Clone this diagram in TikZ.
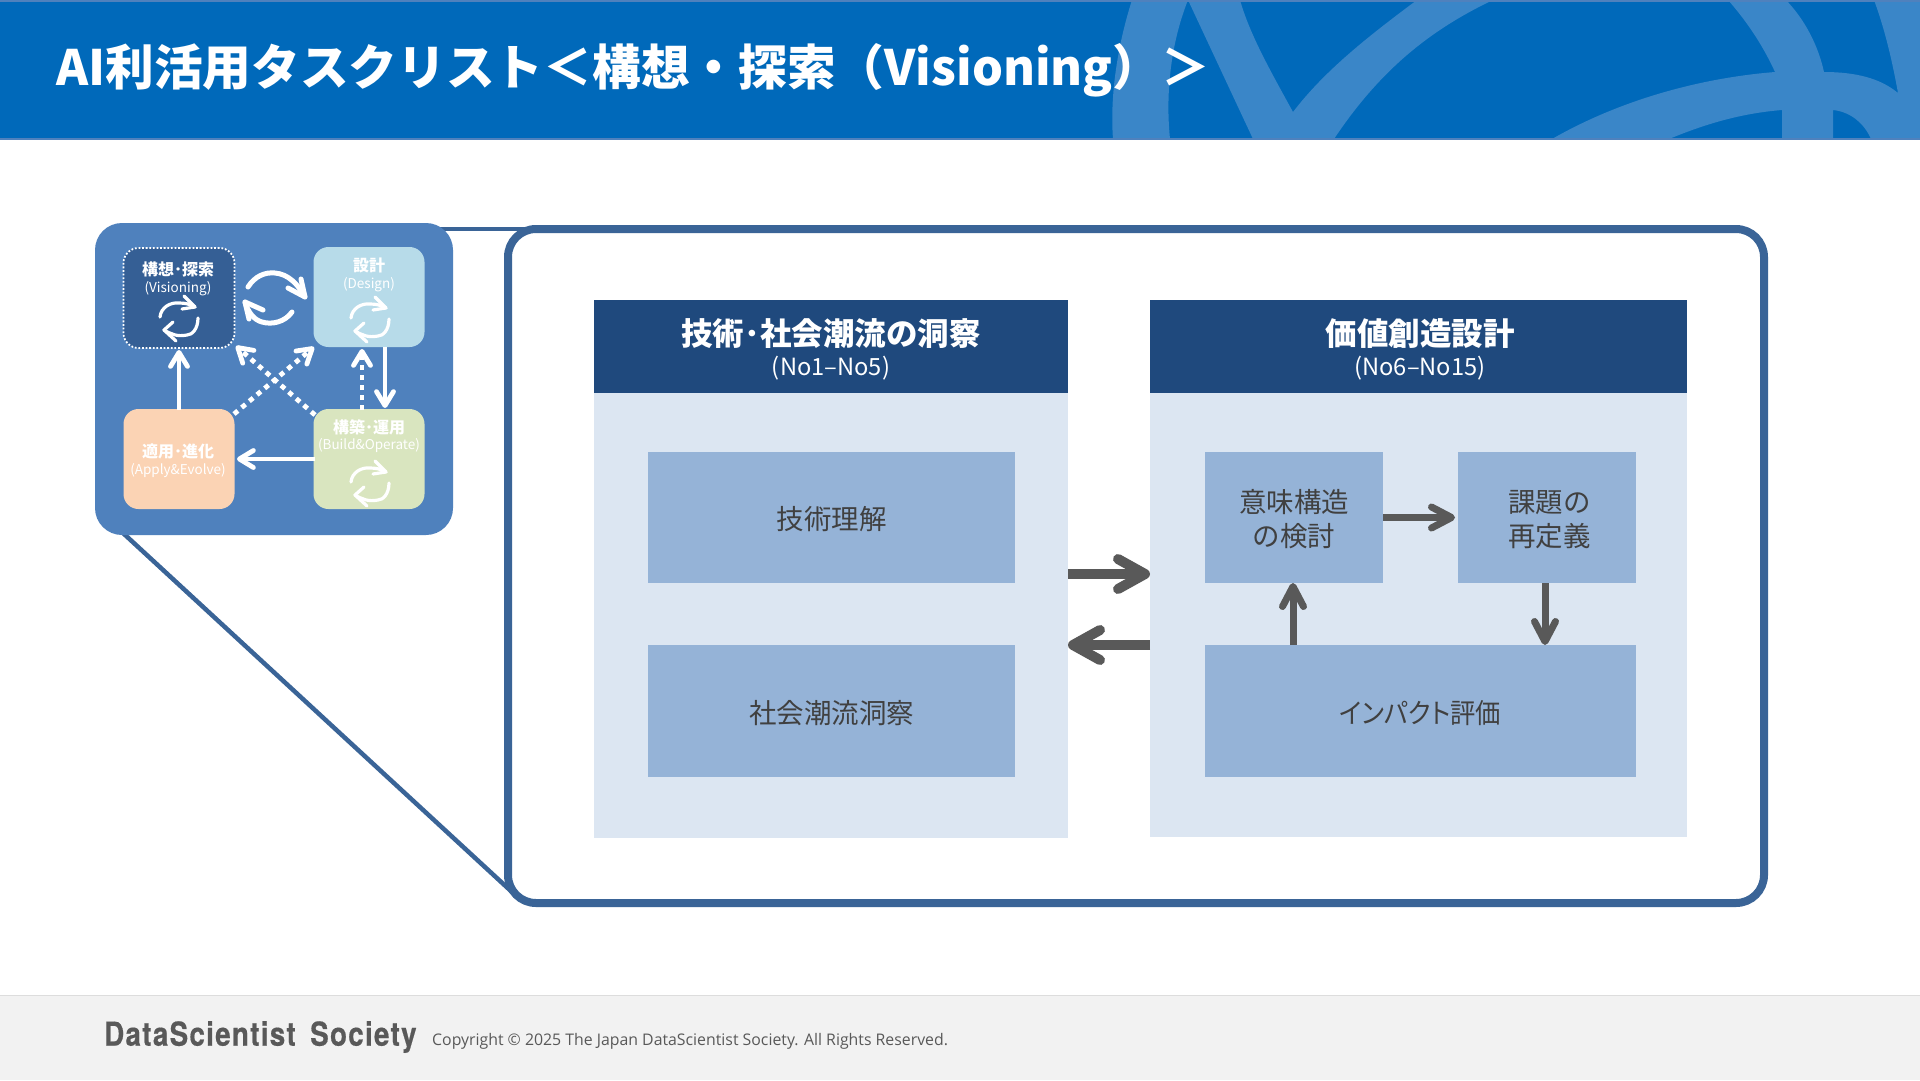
\documentclass[tikz,border=0pt]{standalone}
\usepackage{fontspec}
\usetikzlibrary{arrows.meta}
\setmainfont{Noto Sans CJK JP}
\newfontfamily\propfont[RawFeature={+palt},FakeStretch=0.92]{Noto Sans CJK JP}
\newfontfamily\logofont[FakeStretch=0.84,LetterSpace=4,WordSpace=1.6,FakeBold=0.5]{TeX Gyre Heros}
\newfontfamily\copyfont[FakeStretch=0.99]{Open Sans}
\definecolor{hdr}{HTML}{0069BA}
\definecolor{hdrline}{HTML}{4F81BD}
\definecolor{band}{HTML}{3A86C8}
\definecolor{foot}{HTML}{F2F2F2}
\definecolor{footline}{HTML}{DDDDDD}
\definecolor{panelc}{HTML}{4F81BD}
\definecolor{framec}{HTML}{3A6497}
\definecolor{navy}{HTML}{1F497D}
\definecolor{bodyc}{HTML}{DCE6F2}
\definecolor{boxc}{HTML}{95B3D7}
\definecolor{greyc}{HTML}{595959}
\definecolor{txtc}{HTML}{404040}
\definecolor{visc}{HTML}{355F95}
\definecolor{desc}{HTML}{B7DBE9}
\definecolor{appc}{HTML}{FBD3B4}
\definecolor{bldc}{HTML}{D9E5BF}
\newcommand{\dn}[1]{\raisebox{-2pt}[\height][\depth]{#1}}
\tikzset{
  rectnode/.style={inner sep=0pt,outer sep=0pt,draw=none,align=center},
  colhead/.style={rectnode,fill=navy,text=white},
  colbody/.style={rectnode,fill=bodyc},
  taskbox/.style={rectnode,fill=boxc,text=txtc,font=\fontsize{27.5}{34}\selectfont},
  fatarrow/.style={draw=greyc,line width=10pt,-{Straight Barb[length=27pt,width=30pt,round]}},
  midarrow/.style={draw=greyc,line width=7pt,-{Straight Barb[length=20pt,width=21pt,round]}},
  stagebox/.style={rectnode,rounded corners=15pt,minimum width=111pt,minimum height=100pt},
  stagetxt/.style={text=white,inner sep=0pt,font=\fontsize{16}{18}\bfseries\selectfont},
  stagesub/.style={text=white,inner sep=0pt,font=\fontsize{13.5}{15}\selectfont},
  whitearrow/.style={draw=white,line width=4.8pt,-{Straight Barb[length=14pt,width=17pt,round]}},
  dotarrow/.style={whitearrow,dash pattern=on 5pt off 5pt},
  iconarc/.style={draw=white,line width=3.2pt,line cap=round,line join=round},
  bigarc/.style={draw=white,line width=5pt,line cap=round,line join=round},
  linkline/.style={draw=framec,line width=4.5pt},
}
\newcommand{\cycicon}[2]{%
  \begin{scope}[shift={(#1,#2)}]
  \draw[iconarc] (-19,-2) .. controls (-18,-12) and (-8,-17) .. (0,-16) .. controls (6,-16) and (11,-15) .. (16,-12);
  \draw[iconarc] (5,-23) -- (16,-12) -- (3,-10);
  \draw[iconarc] (19,-1) .. controls (19,10) and (13,16) .. (8,16) .. controls (-2,18) and (-8,15) .. (-15,11);
  \draw[iconarc] (-6,3) -- (-15,11) -- (-3,22);
  \end{scope}
}
\begin{document}
\begin{tikzpicture}[x=1pt,y=-1pt]
\useasboundingbox (0,0) rectangle (1920,1080);
\fill[white] (0,0) rectangle (1920,1080);
% header
\fill[hdr] (0,0) rectangle (1920,139);
\fill[band] (1132,0) .. controls (1116,50) and (1110,100) .. (1113,139) -- (1170,139) .. controls (1165,90) and (1172,40) .. (1188,0) -- cycle;
\fill[band] (1188,0) -- (1253,139) -- (1334,139) .. controls (1380,70) and (1430,30) .. (1493,0) -- (1417,0) .. controls (1370,35) and (1325,70) .. (1293,112) .. controls (1270,70) and (1250,35) .. (1240,0) -- cycle;
\fill[band] (1728,0) .. controls (1750,25) and (1765,50) .. (1775,72) .. controls (1700,78) and (1620,100) .. (1552,139) -- (1669,139) .. controls (1710,122) and (1745,113) .. (1782,110) -- (1782,139) -- (1833,139) -- (1833,110) .. controls (1852,112) and (1865,125) .. (1871,139) -- (1920,139) -- (1920,0) -- (1874,0) .. controls (1885,30) and (1892,60) .. (1898,93) .. controls (1880,78) and (1855,72) .. (1824,72) .. controls (1818,45) and (1805,20) .. (1786,0) -- cycle;
\fill[hdrline] (0,0) rectangle (1920,2);
\fill[hdrline] (0,138) rectangle (1920,140);
\node[anchor=west,inner sep=0pt,text=white,font=\fontsize{48.7}{56}\bfseries\selectfont] (title) at (56,70) {AI利活用タスクリスト＜構想・探索（Visioning）＞};
% footer
\fill[foot] (0,995) rectangle (1920,1080);
\draw[footline,line width=1pt] (0,995) -- (1920,995);
\node[anchor=west,inner sep=0pt,text=greyc,font=\fontsize{33}{36}\logofont\bfseries\selectfont] (logo) at (104,1037) {DataScientist Society};
\node[anchor=west,inner sep=0pt,text=greyc,font=\fontsize{16}{20}\copyfont\selectfont] (copy) at (432,1041) {Copyright © 2025 The Japan DataScientist Society. All Rights Reserved.};
% connectors
\coordinate (ptop) at (430,229);
\coordinate (pbot) at (123,533);
\coordinate (ftop) at (530,229);
\coordinate (fbot) at (512,892);
\draw[linkline] (ptop) -- (ftop);
\draw[linkline] (pbot) -- (fbot);
% frame
\node[rectnode,draw=framec,line width=8pt,fill=white,rounded corners=28pt,minimum width=1256pt,minimum height=674pt] (frame) at (1136,566) {};
% inset panel
\node[rectnode,fill=panelc,rounded corners=27pt,minimum width=358pt,minimum height=312pt] (panel) at (274,379) {};
\node[stagebox,fill=visc,draw=white,line width=1.8pt,dash pattern=on 1.8pt off 1.8pt] (vis) at (179,298) {};
\node[stagebox,fill=desc] (des) at (369,297) {};
\node[stagebox,fill=appc] (app) at (179,459) {};
\node[stagebox,fill=bldc] (bld) at (369,459) {};
\node[stagetxt] (vist) at (178,269) {構想･探索};
\node[stagesub] (viss) at (178,289) {(Visioning)};
\node[stagetxt] (dest) at (369,265) {設計};
\node[stagesub] (dess) at (369,285) {(Design)};
\node[stagetxt] (bldt) at (369,427) {構築･運用};
\node[stagesub] (blds) at (369,446) {(Build\&Operate)};
\node[stagetxt] (appt) at (178,451) {適用･進化};
\node[stagesub] (apps) at (178,471) {(Apply\&Evolve)};
\cycicon{179}{319}
\cycicon{370}{320}
\cycicon{370}{484}
\draw[bigarc] (248,287) .. controls (255,276) and (265,272) .. (275,273) .. controls (288,274) and (298,284) .. (305,297);
\draw[bigarc] (288,288) -- (305,297) -- (301,279);
\draw[bigarc] (292,312) .. controls (285,322) and (272,325) .. (262,322) .. controls (254,320) and (248,312) .. (245,302);
\draw[bigarc] (263,310) -- (245,302) -- (249,319);
\coordinate (a1) at (179,410); \coordinate (a2) at (179,350);
\coordinate (b1) at (385,347); \coordinate (b2) at (385,408);
\coordinate (c1) at (362,410); \coordinate (c2) at (362,349);
\coordinate (d1) at (315,459); \coordinate (d2) at (237,459);
\coordinate (e1) at (234,414); \coordinate (e2) at (314,347);
\coordinate (f1) at (315,415); \coordinate (f2) at (236,346);
\draw[whitearrow] (a1) -- (a2);
\draw[whitearrow] (b1) -- (b2);
\draw[dotarrow] (c1) -- (c2);
\draw[whitearrow] (d1) -- (d2);
\draw[dotarrow] (e1) -- (e2);
\draw[dotarrow] (f1) -- (f2);
% columns
\node[colbody,minimum width=474pt,minimum height=538pt] (lbody) at (831,569) {};
\node[colbody,minimum width=537pt,minimum height=537pt] (rbody) at (1418.5,568.5) {};
\node[colhead,minimum width=474pt,minimum height=93pt] (lhead) at (831,346.5) {};
\node[colhead,minimum width=537pt,minimum height=93pt] (rhead) at (1418.5,346.5) {};
\node[text=white,inner sep=0pt,font=\fontsize{31.5}{36}\bfseries\selectfont] (lt) at (831,334) {技術･社会潮流の洞察};
\node[text=white,inner sep=0pt,font=\fontsize{23.7}{26}\selectfont] (ls) at (831,368) {(No1–No5)};
\node[text=white,inner sep=0pt,font=\fontsize{31.5}{36}\bfseries\selectfont] (rt) at (1420,334) {価値創造設計};
\node[text=white,inner sep=0pt,font=\fontsize{23.7}{26}\selectfont] (rs) at (1420,368) {(No6–No15)};
% task boxes
\node[taskbox,minimum width=367pt,minimum height=131pt] (t1) at (831.5,517.5) {\dn{技術理解}};
\node[taskbox,minimum width=367pt,minimum height=132pt] (t2) at (831.5,711) {\dn{社会潮流洞察}};
\node[taskbox,minimum width=178.5pt,minimum height=131pt] (t3) at (1294,517.5) {\dn{意味構造}\\\dn{の検討}};
\node[taskbox,minimum width=178pt,minimum height=131pt] (t4) at (1547,517.5) {\dn{\hspace*{5pt}課題の}\\\dn{\hspace*{5pt}再定義}};
\node[taskbox,minimum width=431.5pt,minimum height=132pt,font=\fontsize{27.5}{34}\propfont\selectfont] (t5) at (1420.25,711) {\dn{インパクト評価}};
% arrows
\coordinate (lr1) at (lbody.east |- 0,574); \coordinate (lr2) at (rbody.west |- 0,574);
\coordinate (rl1) at (rbody.west |- 0,645); \coordinate (rl2) at (lbody.east |- 0,645);
\draw[fatarrow] (lr1) -- (lr2);
\draw[fatarrow] (rl1) -- (rl2);
\coordinate (m1) at (t3.east); \coordinate (m2) at (1455,517.5);
\draw[midarrow] (m1) -- (m2);
\coordinate (v1) at (1545,583); \coordinate (v2) at (1545,645);
\draw[midarrow] (v1) -- (v2);
\coordinate (u1) at (1293,645); \coordinate (u2) at (1293,583);
\draw[midarrow] (u1) -- (u2);
\end{tikzpicture}
\end{document}
